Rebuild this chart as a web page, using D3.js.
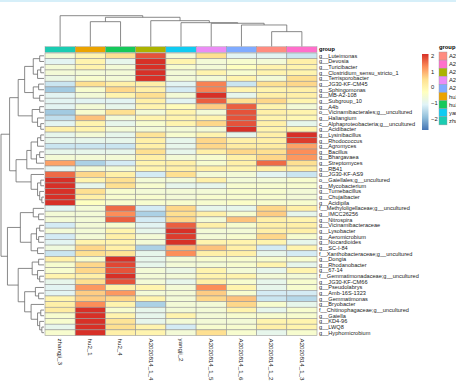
<!DOCTYPE html>
<html>
<head>
<meta charset="utf-8">
<script src="https://cdn.jsdelivr.net/npm/d3@7/dist/d3.min.js"></script>
<style>
  body { margin: 0; background: #fff; }
  svg { display: block; font-family: "Liberation Sans", Arial, sans-serif; }
</style>
</head>
<body>
<svg id="chart" width="456" height="385"></svg>
<script>
// column samples, in clustered order
var samples = ["zhangji_3", "hu2_1", "hu2_4", "A2020814_1_4", "yangji_2",
  "A2020814_1_5", "A2020814_1_6", "A2020814_1_2", "A2020814_1_3"];

// group legend levels and their colours
var groupLevels = ["A2020814_1_2", "A2020814_1_3", "A2020814_1_4", "A2020814_1_5",
  "A2020814_1_6", "hu2_1", "hu2_4", "yangji_2", "zhangji_3"];
var groupColors = ["#FF8C80", "#FF6FCB", "#ABB300", "#EB8CF5",
  "#80ABFF", "#EBA300", "#16C85A", "#0FCBF2", "#1BCCB2"];

// row taxa, in clustered order
var genera = ["g__Luteimonas", "g__Devosia", "g__Turicibacter", "g__Clostridium_sensu_stricto_1",
  "g__Terrisporobacter", "g__JG30-KF-CM45", "g__Sphingomonas", "g__MB-A2-108", "g__Subgroup_10",
  "g__A4b", "o__Vicinamibacterales;g__uncultured", "g__Haliangium",
  "c__Alphaproteobacteria;g__uncultured", "g__Acidibacter", "g__Lysinibacillus", "g__Rhodococcus",
  "g__Agromyces", "g__Bacillus", "g__Bhargavaea", "g__Streptomyces", "g__RB41", "g__JG30-KF-AS9",
  "o__Gaiellales;g__uncultured", "g__Mycobacterium", "g__Tumebacillus", "g__Chujaibacter",
  "g__Acidipila", "f__Methyloligellaceae;g__uncultured", "g__IMCC26256", "g__Nitrospira",
  "g__Vicinamibacteraceae", "g__Lysobacter", "g__Aeromicrobium", "g__Nocardioides", "g__SC-I-84",
  "f__Xanthobacteraceae;g__uncultured", "g__Dongia", "g__Rhodanobacter", "g__67-14",
  "f__Gemmatimonadaceae;g__uncultured", "g__JG30-KF-CM66", "g__Pseudolabrys", "g__Amb-16S-1323",
  "g__Gemmatimonas", "g__Bryobacter", "f__Chitinophagaceae;g__uncultured", "g__Gaiella",
  "g__KD4-96", "g__LWQ8", "g__Hyphomicrobium"];

// row-scaled abundance (z-score), one row per taxon, columns as in samples
var values = [
  [-0.6, 0.0, 0.5, 1.8, -0.6, 0.5, -1.0, -1.0, -1.3],
  [-1.0, 0.0, -0.9, 2.1, 0.0, -0.6, -0.5, -0.6, 0.1],
  [-0.6, 0.0, -0.6, 2.1, -0.5, -0.6, -0.3, 0.0, 0.0],
  [-0.6, -0.6, -0.6, 2.1, -0.6, 0.0, -0.5, 0.0, 0.0],
  [-0.8, -0.5, -0.6, 2.1, -0.6, -0.6, 0.0, -0.6, 0.5],
  [-1.3, 0.5, 0.1, 0.1, -1.0, 1.4, -1.3, 0.5, 0.6],
  [-1.7, -0.5, 0.6, 0.1, -1.2, 1.4, 0.0, 0.0, 0.1],
  [-1.0, -0.6, 0.0, 0.5, -0.6, 2.1, -0.9, 0.1, 0.1],
  [-1.0, -1.0, -1.0, 0.1, -1.0, 1.7, 0.5, 0.6, 0.0],
  [-1.0, -0.6, -0.9, 0.0, -0.2, 0.7, 1.7, 0.0, -0.6],
  [-1.7, -0.5, 0.5, -0.6, 0.0, -0.6, 1.8, 0.1, 0.0],
  [-1.4, 0.8, -0.6, 0.0, 0.0, 0.0, 1.8, 0.0, -0.1],
  [-1.0, 0.0, -0.9, -0.5, 0.0, 0.6, 1.8, 0.1, -0.9],
  [0.1, 0.0, -0.6, -0.6, -0.6, -0.6, 2.1, 0.0, 0.0],
  [-0.9, -0.6, -0.9, 0.4, -0.5, 0.0, -0.9, 0.1, 2.1],
  [-0.9, -0.9, -0.9, 0.1, -0.9, 0.6, 0.1, 0.1, 2.0],
  [-1.3, -1.3, -1.3, 0.1, -0.9, 0.6, 0.2, 0.2, 1.1],
  [-0.9, -0.9, -0.9, 0.5, -0.9, 0.1, 0.6, 0.5, 1.3],
  [-0.6, -0.6, -0.6, 0.1, -0.6, -0.5, 0.1, 0.6, 1.2],
  [1.1, -1.6, -1.2, 0.0, 0.1, -0.5, 0.1, 1.6, 0.5],
  [-1.0, -0.6, -0.6, 0.0, 0.1, 0.1, 0.0, 0.1, 0.2],
  [1.6, 0.6, 0.1, -1.2, 0.5, -0.6, -0.6, -1.0, -1.3],
  [2.1, 0.0, 0.5, -0.6, -0.6, 0.1, -0.6, -0.6, -0.5],
  [2.1, -0.9, 0.5, -0.5, -0.9, -0.9, -0.5, -0.5, -0.5],
  [2.1, 0.5, -0.5, -0.6, -0.6, -0.6, -0.5, -0.5, -0.6],
  [2.1, 0.1, -0.5, -0.5, -0.6, -0.5, -0.5, -0.5, -0.6],
  [2.1, -0.3, -0.5, -0.5, -0.5, -0.5, -0.4, -0.5, -0.5],
  [-1.0, -0.6, 1.6, -1.2, 0.6, -0.9, -0.9, 0.6, 0.1],
  [-0.6, -0.6, 1.3, -1.6, 0.5, 0.1, -0.5, 0.7, -0.9],
  [-0.6, -0.6, 1.7, -1.2, 0.6, -0.6, 0.8, 0.1, 0.0],
  [-1.2, -0.6, -0.5, -1.0, 1.7, 0.1, -0.5, 0.1, 0.1],
  [-0.6, -0.6, 0.0, -0.9, 2.1, -0.6, -0.6, 0.1, 0.1],
  [-1.2, -0.6, 0.1, -0.6, 2.0, -0.6, -0.5, 0.6, -0.5],
  [-1.0, 0.0, 0.0, -0.6, 2.1, 0.0, 0.0, 0.0, -0.9],
  [-0.7, 0.6, 0.1, -1.6, 0.9, 0.8, 0.1, -1.2, 0.0],
  [-1.3, 0.5, 0.4, -0.9, 1.3, 0.1, 0.1, -0.9, -1.2],
  [0.1, -0.5, 2.1, -0.9, -0.6, -0.5, -0.5, -0.5, -0.5],
  [-0.5, 0.6, 1.9, -0.9, -0.6, -0.6, -0.5, 0.0, -0.9],
  [-0.5, 0.6, 1.8, -0.6, -0.8, 0.0, -0.6, -0.9, 0.0],
  [0.0, 0.1, 2.1, -0.6, -0.6, 0.0, 0.0, -0.6, -0.6],
  [-0.9, 0.5, 1.8, -0.6, -0.9, 0.1, -0.5, -0.9, -0.5],
  [-1.0, 1.2, 0.1, 0.0, -0.6, 1.3, 0.0, -0.9, -0.5],
  [-1.0, 0.7, 1.2, -0.6, -0.6, 0.7, -0.5, -1.2, -1.2],
  [0.0, 0.7, 0.6, 0.0, -0.6, 0.6, 0.8, -1.3, -1.5],
  [0.1, 1.3, 0.0, -1.6, -0.6, -0.6, 0.6, -0.5, -0.9],
  [0.2, 2.1, -0.5, -0.9, -0.6, -0.6, 0.0, -0.9, -0.5],
  [-0.5, 2.1, 0.0, -0.9, 0.0, -0.6, -0.5, -0.5, -0.5],
  [-0.5, 2.1, 0.4, -0.9, -0.6, -0.6, -0.6, 0.0, 0.0],
  [-0.9, 2.1, 0.5, 0.0, -1.2, -0.5, -0.5, 0.1, 0.0],
  [-0.5, 2.1, 0.1, 0.0, -0.6, 0.5, -0.5, -0.9, -0.5]
];

var legendTicks = [2, 1, 0, -1, -2];
var valueRange = [-2.67, 2.1];

// dendrograms as [height, left, right]; leaves are indices
var colTree = [30.8, 0, [29.2, [24.8, 1, 2],
  [25.8, 3, [23.8, 4, [23.2, 5, [21.5, 6, [14.8, 7, 8]]]]]]];

var rowTree = [20,
  [16,
    [12, [9, [5, [2, 0, 1], [3, [1.5, 2, 3], 4]], [5, [2.5, 5, 6], [2, 7, 8]]],
      [5.5, [2, 9, 10], [3, 11, [1.5, 12, 13]]]],
    [13, [8, [6, [3, [1.5, 14, 15], 16], [3.5, [2, 17, 18], 19]], 20],
      [6, 21, [3, [1.5, 22, 23], [2, 24, [1, 25, 26]]]]]],
  [17,
    [11, [5, 27, [2.5, 28, 29]],
      [6, [3.5, [2, 30, 31], [2.5, 32, 33]], [3, 34, 35]]],
    [12, [5.5, [2.5, 36, 37], [3, 38, [2, 39, 40]]],
      [9, [4, 41, [2.5, 42, 43]],
        [6, 44, [3, [1.5, 45, 46], [2, 47, [1, 48, 49]]]]]]]];

var svg = d3.select("#chart"),
  width = 456,
  heat = { left: 45, right: 317, top: 53, bottom: 335.5 },
  annTop = 46.7, annBottom = 52.3,
  rdylbu = ["#4575B4", "#91BFDB", "#E0F3F8", "#FFFFBF", "#FEE090", "#FC8D59", "#D73027"];

svg.append("rect").attr("width", width).attr("height", 385).attr("fill", "#fff");
svg.append("rect").attr("width", width).attr("height", 2).attr("fill", "#d6eff9");

var x = d3.scaleBand().domain(samples).range([heat.left, heat.right]),
  y = d3.scaleBand().domain(genera).range([heat.top, heat.bottom]),
  color = d3.scaleLinear()
    .domain(d3.range(rdylbu.length).map(function(i) {
      return valueRange[0] + i * (valueRange[1] - valueRange[0]) / (rdylbu.length - 1);
    }))
    .range(rdylbu)
    .clamp(true),
  groupColor = d3.scaleOrdinal().domain(groupLevels).range(groupColors);

// cells
var cells = [];
values.forEach(function(row, i) {
  row.forEach(function(v, j) {
    cells.push({ genus: genera[i], sample: samples[j], value: v });
  });
});

svg.append("g")
  .selectAll("rect")
  .data(cells)
  .enter().append("rect")
  .attr("x", function(d) { return x(d.sample); })
  .attr("y", function(d) { return y(d.genus); })
  .attr("width", x.bandwidth())
  .attr("height", y.bandwidth())
  .attr("fill", function(d) { return color(d.value); })
  .attr("stroke", "#999")
  .attr("stroke-width", 0.6);

// column annotation
svg.append("g")
  .selectAll("rect")
  .data(samples)
  .enter().append("rect")
  .attr("x", function(d) { return x(d); })
  .attr("y", annTop)
  .attr("width", x.bandwidth())
  .attr("height", annBottom - annTop)
  .attr("fill", function(d) { return groupColor(d); })
  .attr("stroke", "#999")
  .attr("stroke-width", 0.4);

svg.append("text")
  .attr("x", heat.right + 2)
  .attr("y", (annTop + annBottom) / 2)
  .attr("dy", "0.35em")
  .attr("font-size", 5.6)
  .attr("font-weight", "bold")
  .text("group");

// row labels
svg.append("g")
  .selectAll("text")
  .data(genera)
  .enter().append("text")
  .attr("x", heat.right + 2)
  .attr("y", function(d) { return y(d) + y.bandwidth() / 2; })
  .attr("dy", "0.35em")
  .attr("font-size", 5.6)
  .attr("fill", "#222")
  .text(function(d) { return d; });

// column labels
svg.append("g")
  .selectAll("text")
  .data(samples)
  .enter().append("text")
  .attr("transform", function(d) {
    return "translate(" + (x(d) + x.bandwidth() / 2) + "," + (heat.bottom + 3) + ") rotate(90)";
  })
  .attr("dy", "0.35em")
  .attr("font-size", 6.2)
  .attr("fill", "#222")
  .text(function(d) { return d; });

// dendrograms
var drawTree = function(tree, leafPos, hScale, horizontal) {
  var g = svg.append("g")
      .attr("fill", "none")
      .attr("stroke", "#6b6b6b")
      .attr("stroke-width", 0.8),
    pt = function(p, h) {
      return horizontal ? [hScale(h), p] : [p, hScale(h)];
    },
    walk = function(node) {
      if (!Array.isArray(node)) return { pos: leafPos(node), h: 0 };
      var a = walk(node[1]), b = walk(node[2]), h = node[0],
        p = d3.path(), s;
      s = pt(a.pos, a.h); p.moveTo(s[0], s[1]);
      s = pt(a.pos, h); p.lineTo(s[0], s[1]);
      s = pt(b.pos, h); p.lineTo(s[0], s[1]);
      s = pt(b.pos, b.h); p.lineTo(s[0], s[1]);
      g.append("path").attr("d", p.toString());
      return { pos: (a.pos + b.pos) / 2, h: h };
    };
  walk(tree);
};

drawTree(colTree, function(i) { return x(samples[i]) + x.bandwidth() / 2; },
  d3.scaleLinear().domain([0, colTree[0]]).range([annTop - 0.3, 15.7]), false);

drawTree(rowTree, function(i) { return y(genera[i]) + y.bandwidth() / 2; },
  d3.scaleLinear().domain([0, rowTree[0]]).range([heat.left - 1, 1]), true);

// colour legend
var barX = 422, barW = 6.5,
  barScale = d3.scaleLinear().domain(valueRange).range([130, 54]),
  grad = svg.append("defs").append("linearGradient")
    .attr("id", "bar").attr("x1", 0).attr("x2", 0).attr("y1", 1).attr("y2", 0);

d3.range(0, 1.0001, 1 / 6).forEach(function(t) {
  grad.append("stop")
    .attr("offset", t)
    .attr("stop-color", color(valueRange[0] + t * (valueRange[1] - valueRange[0])));
});

svg.append("rect")
  .attr("x", barX).attr("y", barScale(valueRange[1]))
  .attr("width", barW).attr("height", barScale(valueRange[0]) - barScale(valueRange[1]))
  .attr("fill", "url(#bar)");

svg.append("g")
  .selectAll("text")
  .data(legendTicks)
  .enter().append("text")
  .attr("x", barX + barW + 2.5)
  .attr("y", function(d) { return barScale(d); })
  .attr("dy", "0.35em")
  .attr("font-size", 5.8)
  .attr("fill", "#222")
  .text(function(d) { return d < 0 ? "\u2212" + Math.abs(d) : d; });

// group legend
var lg = svg.append("g").attr("transform", "translate(439,0)"),
  boxH = 8.1;

lg.append("text")
  .attr("x", 0).attr("y", 48.5)
  .attr("font-size", 5.8)
  .attr("font-weight", "bold")
  .text("group");

lg.selectAll("rect")
  .data(groupLevels)
  .enter().append("rect")
  .attr("x", 0)
  .attr("y", function(d, i) { return 52 + i * boxH; })
  .attr("width", 8)
  .attr("height", boxH)
  .attr("fill", function(d) { return groupColor(d); })
  .attr("stroke", "#999")
  .attr("stroke-width", 0.4);

lg.selectAll("text.lab")
  .data(groupLevels)
  .enter().append("text")
  .attr("class", "lab")
  .attr("x", 10)
  .attr("y", function(d, i) { return 52 + (i + 0.5) * boxH; })
  .attr("dy", "0.35em")
  .attr("font-size", 5.8)
  .attr("fill", "#222")
  .text(function(d) { return d; });
</script>
</body>
</html>
